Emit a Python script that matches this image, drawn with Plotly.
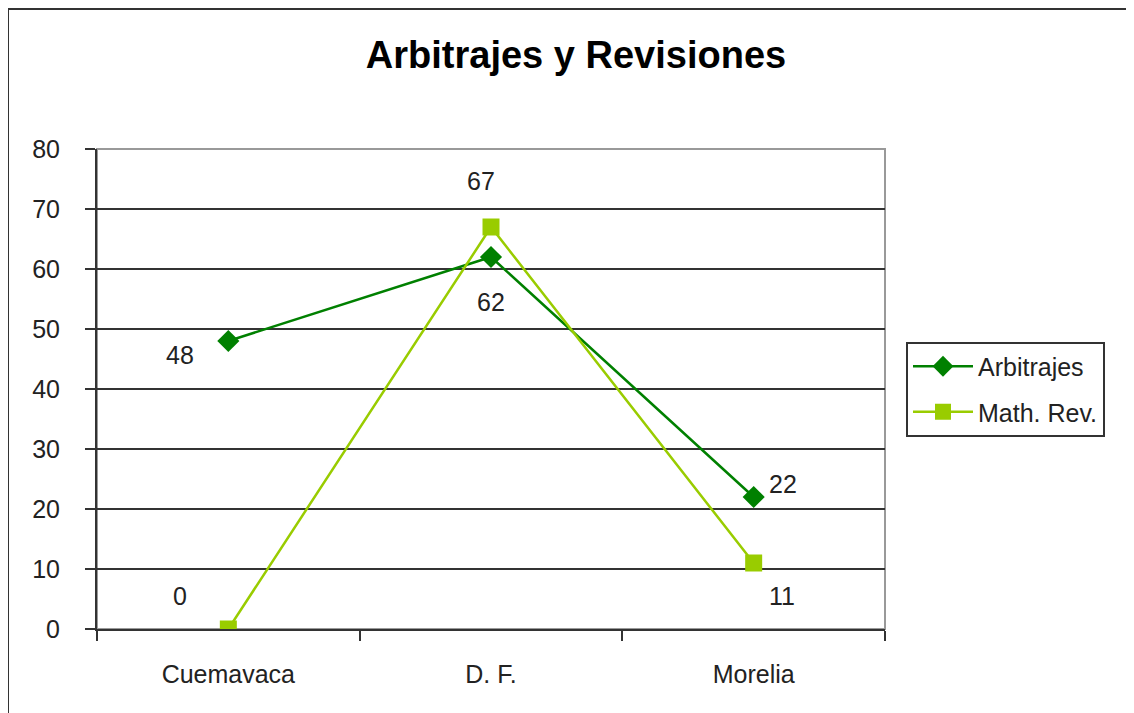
import plotly.graph_objects as go

categories = ["Cuemavaca", "D. F.", "Morelia"]
arbitrajes = [48, 62, 22]
math_rev = [0, 67, 11]
y_ticks = [0, 10, 20, 30, 40, 50, 60, 70, 80]

# label offsets (pixels) – styling only
arb_shift = [(-48, -14), (0, -45), (29, 13)]
rev_shift = [(-48, 33), (-10, 46), (28, -33)]

FONT = "Liberation Sans, Arial, sans-serif"
DARK = "#008000"
LIGHT = "#99CC00"
OFF = 8  # page margin offset

fig = go.Figure()
fig.add_trace(go.Scatter(
    x=categories, y=arbitrajes, name="Arbitrajes", mode="lines+markers",
    legendgroup="a",
    line=dict(color=DARK, width=2.5),
    marker=dict(symbol="diamond", size=17, color=DARK),
))
fig.add_trace(go.Scatter(
    x=categories, y=math_rev, name="Math. Rev.", mode="lines+markers",
    legendgroup="b",
    line=dict(color=LIGHT, width=2.5),
    marker=dict(symbol="square", size=17, color=LIGHT),
))

for series, shifts in ((arbitrajes, arb_shift), (math_rev, rev_shift)):
    for c, v, (dx, dy) in zip(categories, series, shifts):
        fig.add_annotation(x=c, y=v, text=str(v), showarrow=False,
                           xshift=dx, yshift=dy,
                           font=dict(family=FONT, size=25, color="#222"))

W, H = 1134, 713
L = 97 - OFF
T = 149 - OFF
R = W - (885 - OFF)
B = H - (629 - OFF)
pw, ph = W - L - R, H - T - B

# outer chart border
fig.add_shape(type="rect", xref="paper", yref="paper",
              x0=(8 - OFF - L) / pw, x1=(1145 - L) / pw,
              y0=(H - B - 730) / ph, y1=(H - B - (9 - OFF)) / ph,
              line=dict(color="#333", width=2), layer="below")
# plot area border (gray)
fig.add_shape(type="rect", xref="paper", yref="paper", x0=0, x1=1, y0=0, y1=1,
              line=dict(color="#999", width=2), layer="below")

fig.update_layout(
    width=W, height=H,
    margin=dict(l=L, r=R, t=T, b=B),
    paper_bgcolor="white", plot_bgcolor="white",
    title=dict(text="<b>Arbitrajes y Revisiones</b>", x=(576 - OFF) / W, xanchor="center",
               y=1 - (55 - OFF) / H, yanchor="middle",
               font=dict(family=FONT, size=38, color="black")),
    xaxis=dict(range=[-0.5, 2.5], tickson="boundaries", ticks="outside",
               ticklen=10, tickcolor="#333", tickwidth=2,
               showline=True, linecolor="#333", linewidth=2,
               showgrid=False, zeroline=False, ticklabelstandoff=22,
               tickfont=dict(family=FONT, size=25, color="#222")),
    yaxis=dict(range=[0, 80], tickvals=y_ticks, ticks="outside",
               ticklen=10, tickcolor="#333", tickwidth=2,
               showline=True, linecolor="#333", linewidth=2,
               showgrid=True, gridcolor="#333", gridwidth=2, zeroline=False,
               ticklabelstandoff=20,
               tickfont=dict(family=FONT, size=25, color="#222")),
    legend=dict(x=(906 - OFF - L) / pw, xanchor="left", y=0.5, yanchor="middle",
                bordercolor="#333", borderwidth=2, bgcolor="white",
                font=dict(family=FONT, size=25, color="#222"),
                tracegroupgap=10, itemwidth=60,
                entrywidth=215, entrywidthmode="pixels"),
    showlegend=True,
)

fig.write_html("out.html")
